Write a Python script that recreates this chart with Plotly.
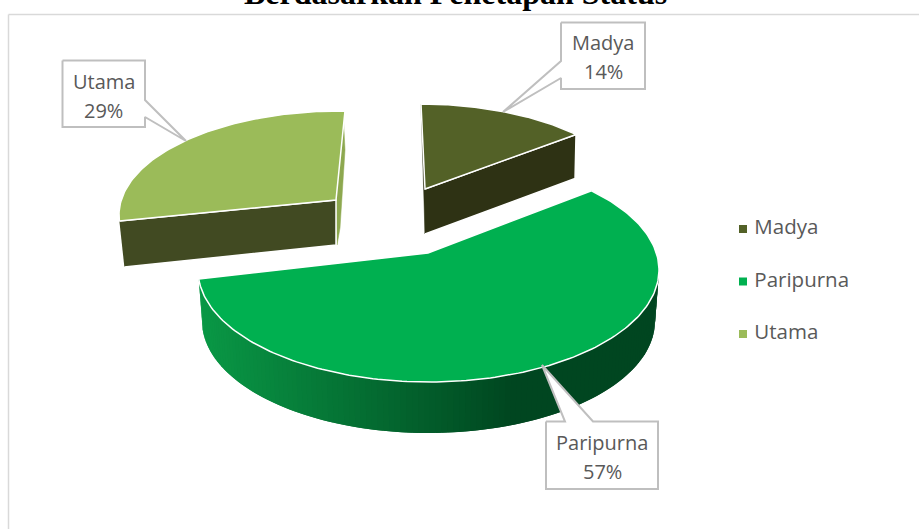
import numpy as np
import plotly.graph_objects as go

categories = ["Madya", "Paripurna", "Utama"]
values = [14, 57, 29]
top_colors = ["#536127", "#00B050", "#9BBB59"]
side_colors = ["#2E3214", None, "#414A22"]
title_text = "Berdasarkan Penetapan Status"

TEXT = "#595959"
FONT = "Open Sans"
EDGE = "#BFBFBF"
val = dict(zip(categories, values))

fig = go.Figure()


def poly(xs, ys, fill, line="white", width=1.5):
    fig.add_trace(go.Scatter(
        x=list(xs), y=list(ys), mode="lines", fill="toself", fillcolor=fill,
        line=dict(color=line, width=width), hoverinfo="skip", showlegend=False))


def arc(cx, cy, rx, ry, a0, sweep, n=90):
    t = np.radians(np.linspace(a0, a0 - sweep, n))
    return cx + rx * np.cos(t), cy - ry * np.sin(t)


# ---- Utama: exploded slice, upper left
u_sweep = val["Utama"] * 3.6 * 0.906
ux, uy = arc(340, 215, 221, 104, 183.3, u_sweep)   # runs left corner -> top right
poly([343, 345, 340, 337, 336, 343], [111, 150, 228, 245, 200, 111], "#8DA84F", line="#8DA84F", width=0.5)
poly([ux[0], 336, 336, ux[0] + 5], [uy[0], 200, 245, uy[0] + 46], side_colors[2])
poly(list(ux) + [336, ux[0]], list(uy) + [200, uy[0]], top_colors[2])

# ---- Madya: exploded slice, upper centre
m_sweep = val["Madya"] * 3.6 * 0.889
mx, my = arc(421, 209, 220, 105, 90, m_sweep)
poly([421, 423, 425, 425], [104, 170, 234, 189], "#2E3214", line="#2E3214", width=0.5)
poly([425, mx[-1], mx[-1] - 1, 425], [189, my[-1], my[-1] + 44, 234], side_colors[0])
poly(list(mx) + [425, mx[0]], list(my) + [189, my[0]], top_colors[0])

# ---- Paripurna: main slice, with a shaded rim
p_sweep = val["Paripurna"] * 3.6 * 1.074
p_start = 45
px, py = arc(428.5, 270, 230.5, 112, p_start, p_sweep, n=180)

rim_start = 2.0
rim_total = p_sweep - (p_start - rim_start)
edges = np.linspace(rim_start, rim_start - rim_total, 121)


def rim_color(x):
    if x >= 513:
        return "rgb(0,70,32)"
    f = (513 - x) / (513 - 200)
    return f"rgb({int(10 * f)},{int(70 + 82 * f)},{int(32 + 38 * f)})"


for i in range(len(edges) - 1):
    a, b = edges[i], edges[min(i + 2, len(edges) - 1)]
    ts = np.radians([a, b])
    tx = 428.5 + 230.5 * np.cos(ts)
    ty = 270 - 112 * np.sin(ts)
    bx = 428.5 + 226.5 * np.cos(ts)
    by = 321 - 112 * np.sin(ts)
    col = rim_color(tx.mean())
    poly([tx[0], tx[1], bx[1], bx[0]], [ty[0], ty[1], by[1], by[0]], col, line=col, width=0)

poly(list(px) + [428, px[0]], list(py) + [253, py[0]], top_colors[1])

# ---- Data-label callouts
callouts = {
    "Utama": ([62.5, 145, 145, 186, 145, 145, 62.5, 62.5],
              [60.5, 60.5, 100, 141, 117, 127, 127, 60.5], 103.7, 81, 110),
    "Madya": ([561, 645, 645, 561, 561, 503, 561, 561],
              [22.5, 22.5, 89, 89, 78, 112, 61, 22.5], 603, 42, 71),
    "Paripurna": ([546, 565, 542, 593, 658, 658, 546, 546],
                  [421.5, 421.5, 365, 421.5, 421.5, 489, 489, 421.5], 602, 442, 471),
}
annotations = []
for name, (xs, ys, tx, y1, y2) in callouts.items():
    poly(xs, ys, "white", line=EDGE, width=2)
    for txt, yy in ((name, y1), (f"{val[name]}%", y2)):
        annotations.append(dict(x=tx, y=yy, xref="x", yref="y", text=txt, showarrow=False,
                                font=dict(family=FONT, size=20, color=TEXT)))

# ---- Legend
legend_y = [229, 281.5, 334]
for name, col, yy in zip(categories, top_colors, legend_y):
    fig.add_trace(go.Scatter(
        x=[743], y=[yy], mode="markers+text", name=name, text=[" " + name],
        textposition="middle right", textfont=dict(family=FONT, size=20.5, color=TEXT),
        marker=dict(symbol="square", size=8, color=col), hoverinfo="skip", showlegend=False))

# ---- Title
annotations.append(dict(x=455 / 919, y=1, xref="paper", yref="paper", yanchor="middle", yshift=7,
                        text=f"<b>{title_text}</b>", showarrow=False,
                        font=dict(family="Liberation Serif", size=32, color="black")))

fig.update_layout(
    width=919, height=529, margin=dict(l=0, r=0, t=0, b=0),
    paper_bgcolor="white", plot_bgcolor="white", showlegend=False,
    xaxis=dict(range=[0, 919], visible=False, fixedrange=True),
    yaxis=dict(range=[529, 0], visible=False, fixedrange=True),
    annotations=annotations,
    shapes=[
        dict(type="line", xref="x", yref="y", x0=8.5, x1=919, y0=14.5, y1=14.5, line=dict(color="#D9D9D9", width=1.5), layer="below"),
        dict(type="line", xref="x", yref="y", x0=8.5, x1=8.5, y0=14.5, y1=529, line=dict(color="#D9D9D9", width=1.5), layer="below"),
    ],
)
fig.write_html("out.html", config={"displayModeBar": False},
               post_script="document.body.style.margin='0';document.documentElement.style.overflow='hidden';")
